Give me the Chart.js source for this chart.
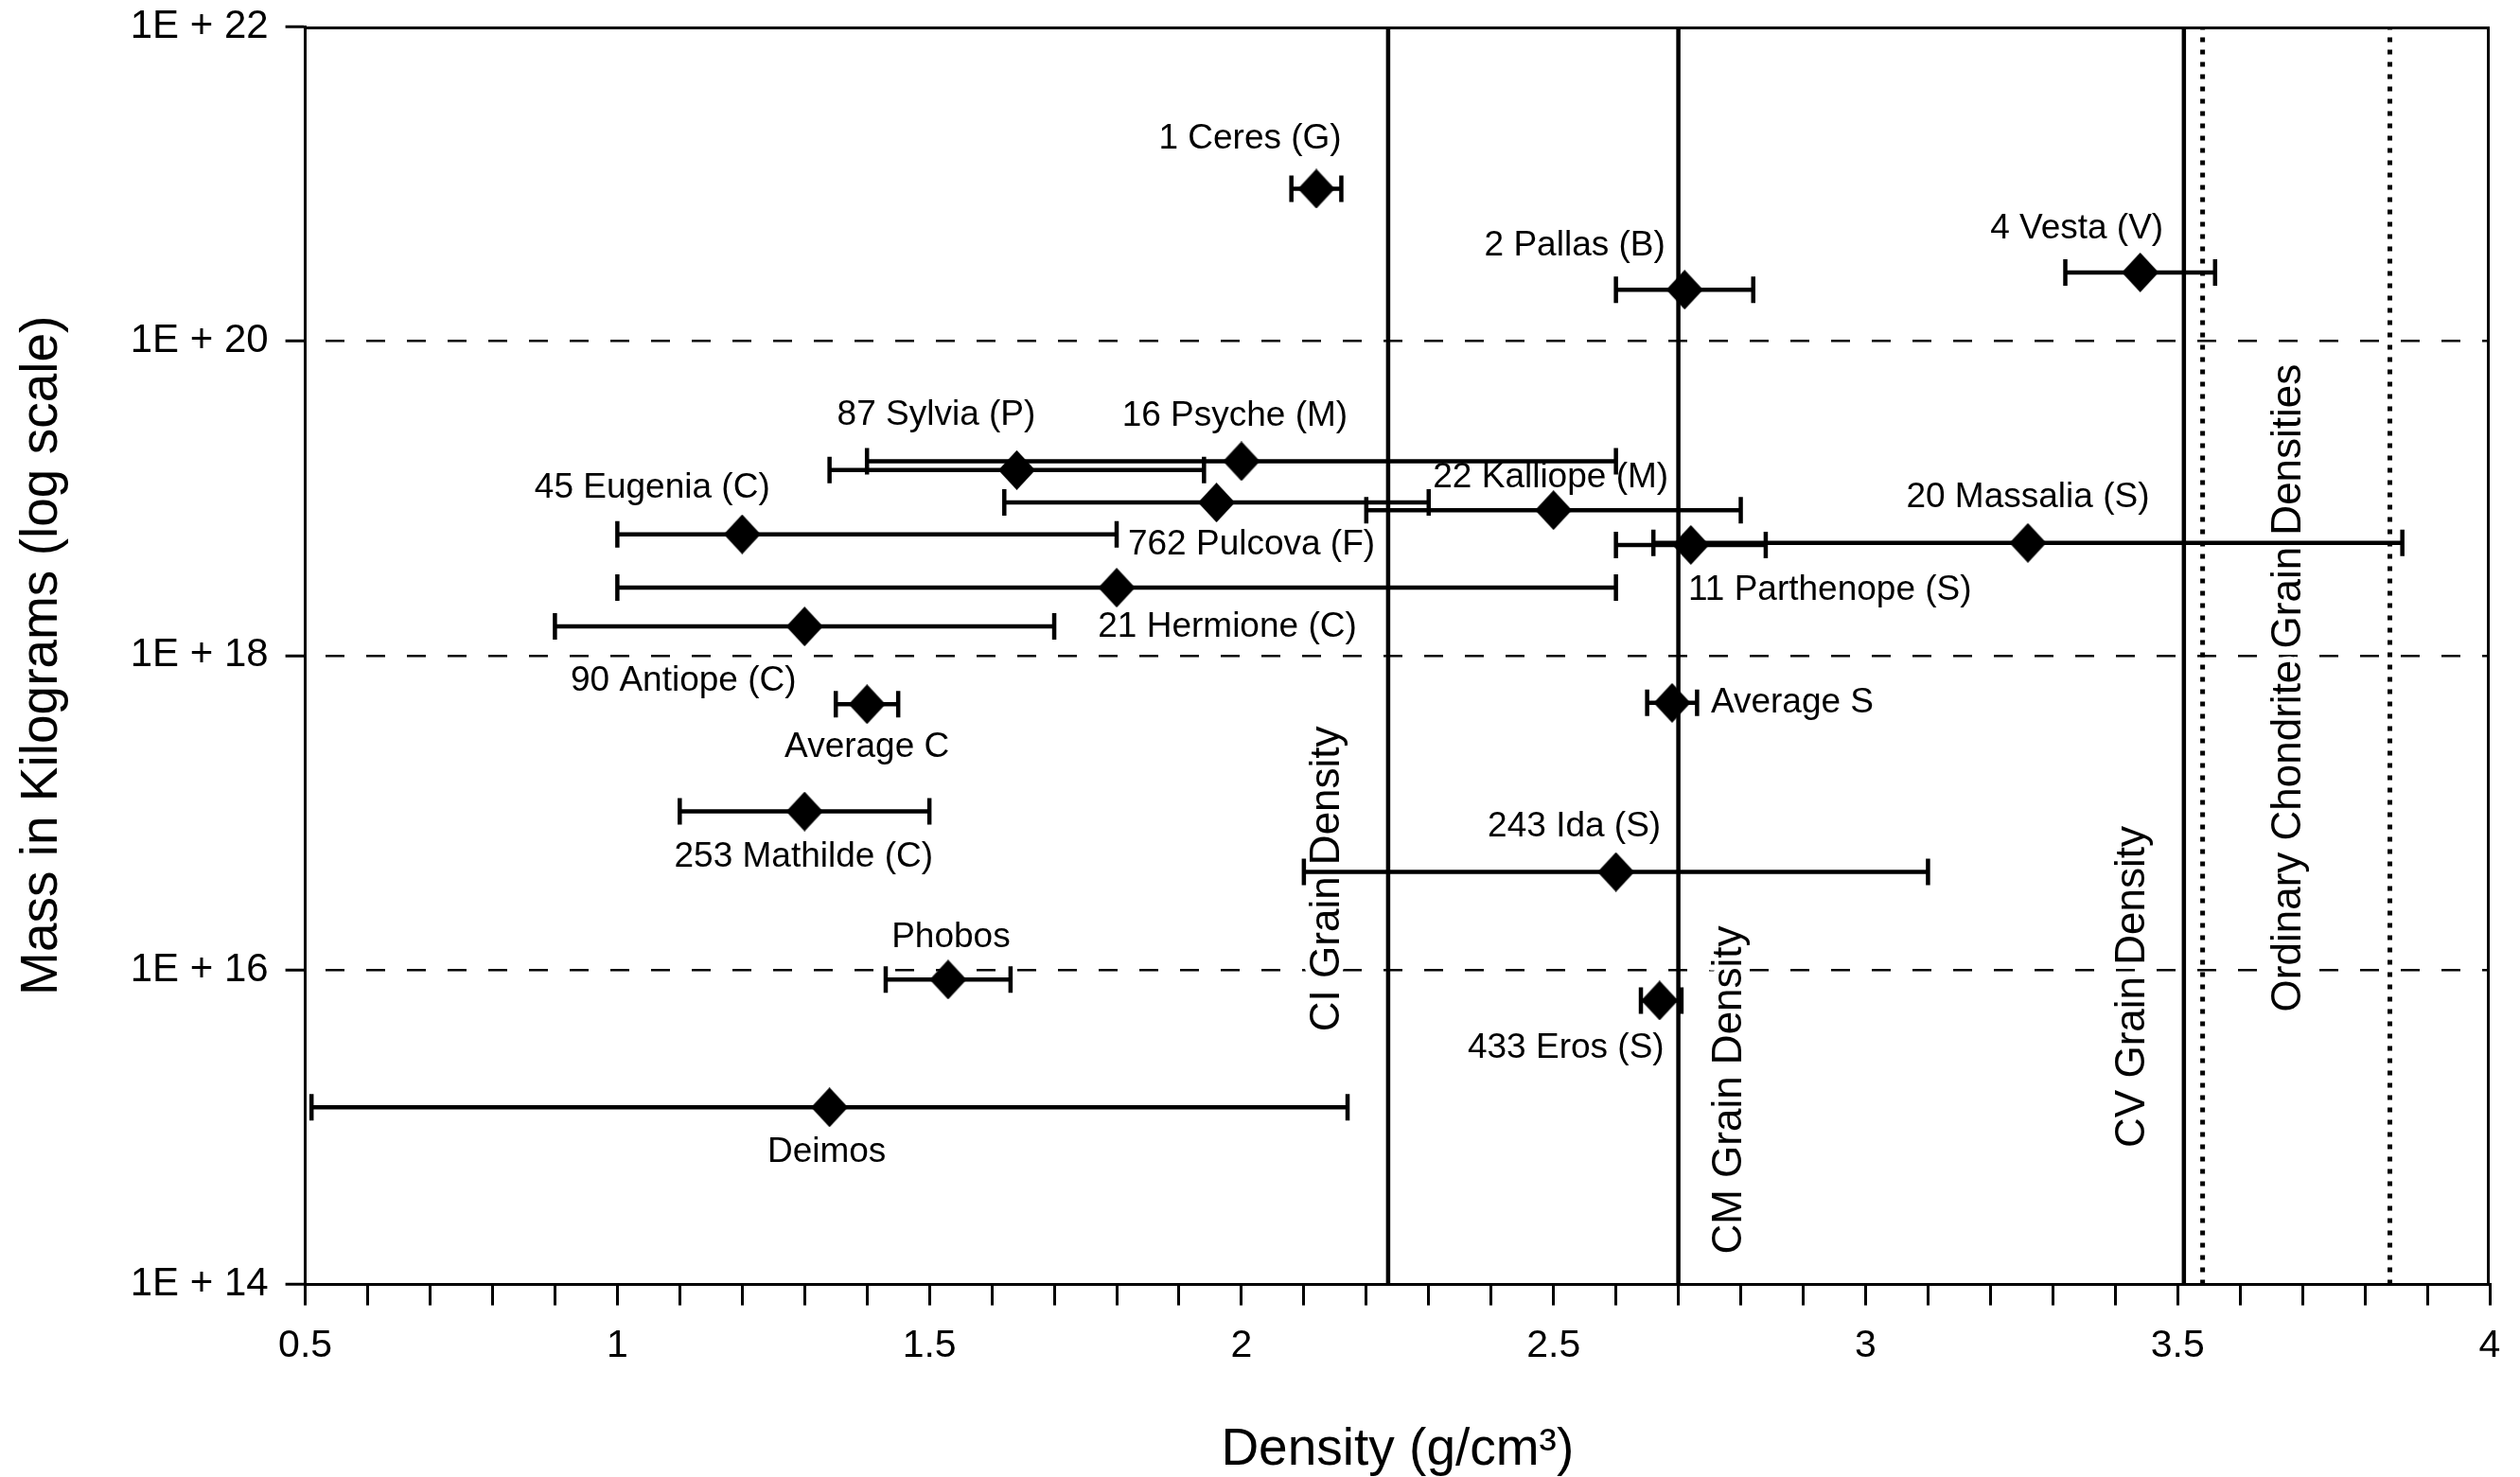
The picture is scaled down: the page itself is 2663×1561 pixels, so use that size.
<!DOCTYPE html>
<html>
<head>
<meta charset="utf-8">
<script src="https://cdn.jsdelivr.net/npm/chart.js"></script>
<style>
html,body{margin:0;padding:0;background:#fff;}
canvas{display:block;}
</style>
</head>
<body>
<canvas id="c" width="2663" height="1561"></canvas>
<script>
// ---------------- data ----------------
const names = [
  '1 Ceres (G)', '2 Pallas (B)', '4 Vesta (V)', '16 Psyche (M)', '87 Sylvia (P)',
  '22 Kalliope (M)', '762 Pulcova (F)', '45 Eugenia (C)', '20 Massalia (S)', '11 Parthenope (S)',
  '21 Hermione (C)', '90 Antiope (C)', 'Average C', 'Average S', '253 Mathilde (C)',
  '243 Ida (S)', 'Phobos', '433 Eros (S)', 'Deimos'
];
const density     = [2.12, 2.71, 3.44, 2.00, 1.64, 2.50, 1.96, 1.20, 3.26, 2.72, 1.80, 1.30, 1.40, 2.69, 1.30, 2.60, 1.53, 2.67, 1.34];
const densityLow  = [2.08, 2.60, 3.32, 1.40, 1.34, 2.20, 1.62, 1.00, 2.66, 2.60, 1.00, 0.90, 1.35, 2.65, 1.10, 2.10, 1.43, 2.64, 0.51];
const densityHigh = [2.16, 2.82, 3.56, 2.60, 1.94, 2.80, 2.30, 1.80, 3.86, 2.84, 2.60, 1.70, 1.45, 2.73, 1.50, 3.10, 1.63, 2.705, 2.17];
const massKg      = [9.3e20, 2.12e20, 2.73e20, 1.72e19, 1.51e19, 8.4e18, 9.4e18, 5.9e18, 5.2e18, 5.05e18,
                     2.7e18, 1.53e18, 4.9e17, 5.0e17, 1.02e17, 4.2e16, 8.7e15, 6.4e15, 1.34e15];

const grainLineNames   = ['CI Grain Density', 'CM Grain Density', 'CV Grain Density'];
const grainLineDensity = [2.235, 2.70, 3.51];
const ordinaryChondriteName = 'Ordinary Chondrite Grain Densities';
const ordinaryChondriteDensity = [3.54, 3.84];

const xTickLabels = ['0.5', '1', '1.5', '2', '2.5', '3', '3.5', '4'];
const yTickExponents = [14, 16, 18, 20, 22];

// ---------------- layout (pixel offsets of text, not data) ----------------
const labelOffsets = [
  [-70, -53], [-116, -46], [-67, -46], [-7, -48], [-85, -58],
  [-3, -34], [37, 45], [-95, -49], [0, -48], [147, 48],
  [117, 42], [-128, 58], [0, 46], [127, 0], [-1, 48],
  [-44, -48], [3, -44], [-99, 50], [-3, 48]
];
// rotated labels: anchor density, pixel dx, anchor mass (vertical centre)
const lineLabelLayout = [
  {at: 2.235, dx: -64, mass: 10 ** 16.58},
  {at: 2.70,  dx: 54,  mass: 10 ** 15.237},
  {at: 3.51,  dx: -54, mass: 10 ** 15.893},
  {at: 3.69,  dx: -8,  mass: 10 ** 17.794}
];

const FF = '"Liberation Sans", Arial, Helvetica, sans-serif';
const BLACK = '#000';

// diamond marker
const diamond = document.createElement('canvas');
diamond.width = 39; diamond.height = 42;
{
  const g = diamond.getContext('2d');
  g.fillStyle = BLACK;
  g.beginPath();
  g.moveTo(19.5, 0); g.lineTo(39, 21); g.lineTo(19.5, 42); g.lineTo(0, 21);
  g.closePath(); g.fill();
}

// ---------------- datasets ----------------
const datasets = [];
datasets.push({
  data: names.map((n, i) => ({x: density[i], y: massKg[i]})),
  pointStyle: diamond, pointRadius: 20, backgroundColor: BLACK, borderWidth: 0,
  showLine: false, order: 0
});
names.forEach((n, i) => {
  datasets.push({
    data: [{x: densityLow[i], y: massKg[i]}, {x: densityHigh[i], y: massKg[i]}],
    showLine: true, borderColor: BLACK, borderWidth: 4.5,
    pointStyle: 'line', pointRotation: 90, pointRadius: 14,
    pointBorderWidth: 4.5, pointBorderColor: BLACK, pointBackgroundColor: BLACK,
    order: 1
  });
});
grainLineDensity.forEach(v => {
  datasets.push({
    data: [{x: v, y: 10 ** yTickExponents[0]}, {x: v, y: 10 ** yTickExponents[yTickExponents.length - 1]}],
    showLine: true, borderColor: BLACK, borderWidth: 4.5, pointRadius: 0, order: 2
  });
});
ordinaryChondriteDensity.forEach(v => {
  datasets.push({
    data: [{x: v, y: 10 ** yTickExponents[0]}, {x: v, y: 10 ** yTickExponents[yTickExponents.length - 1]}],
    showLine: true, borderColor: BLACK, borderWidth: 5, borderDash: [5, 8], pointRadius: 0, order: 2
  });
});

// ---------------- plugins ----------------
const textPlugin = {
  id: 'texts',
  beforeDatasetsDraw(chart) {
    const {ctx, scales: {x, y}} = chart;
    const texts = grainLineNames.concat([ordinaryChondriteName]);
    ctx.save();
    ctx.font = `44px ${FF}`;
    ctx.textAlign = 'center';
    ctx.textBaseline = 'middle';
    texts.forEach((t, i) => {
      const L = lineLabelLayout[i];
      const px = x.getPixelForValue(L.at) + L.dx;
      const py = y.getPixelForValue(L.mass);
      ctx.save();
      ctx.translate(px, py);
      ctx.rotate(-Math.PI / 2);
      ctx.lineJoin = 'round';
      ctx.lineWidth = 12;
      ctx.strokeStyle = '#fff';
      ctx.strokeText(t, 0, 0);
      ctx.fillStyle = BLACK;
      ctx.fillText(t, 0, 0);
      ctx.restore();
    });
    ctx.restore();
  },
  afterDatasetsDraw(chart) {
    const {ctx, chartArea: a, scales: {x, y}} = chart;
    ctx.save();
    // top and right frame
    ctx.strokeStyle = BLACK;
    ctx.lineWidth = 3;
    ctx.beginPath();
    ctx.moveTo(a.left, a.top + 1.5); ctx.lineTo(a.right - 1.5, a.top + 1.5); ctx.lineTo(a.right - 1.5, a.bottom);
    ctx.stroke();
    // object labels
    ctx.font = `37px ${FF}`;
    ctx.textAlign = 'center';
    ctx.textBaseline = 'middle';
    ctx.fillStyle = BLACK;
    names.forEach((n, i) => {
      const px = x.getPixelForValue(density[i]) + labelOffsets[i][0];
      const py = y.getPixelForValue(massKg[i]) + labelOffsets[i][1];
      ctx.fillText(n, px, py);
    });
    ctx.restore();
  }
};

// ---------------- chart ----------------
new Chart(document.getElementById('c'), {
  type: 'scatter',
  data: {datasets},
  options: {
    responsive: false,
    animation: false,
    devicePixelRatio: 1,
    events: [],
    layout: {padding: {left: 0, right: 32, top: 28, bottom: 0}},
    plugins: {legend: {display: false}, tooltip: {enabled: false}, title: {display: false}},
    scales: {
      x: {
        type: 'linear',
        min: 0.5, max: 4,
        afterBuildTicks(s) {
          const t = [];
          for (let i = 5; i <= 40; i++) t.push({value: i / 10});
          s.ticks = t;
        },
        afterFit(s) { s.height = 1561 - 1357.6; s.paddingLeft = 0; s.paddingRight = 0; },
        ticks: {
          autoSkip: false, maxRotation: 0, minRotation: 0,
          padding: 18,
          color: BLACK,
          font: {family: FF, size: 41},
          callback(v) {
            const t = Math.round(v * 10);
            return t % 5 === 0 ? xTickLabels[(t - 5) / 5] : '';
          }
        },
        grid: {
          drawOnChartArea: false, drawTicks: true,
          tickLength: 22, tickWidth: 3, tickColor: BLACK, color: BLACK, lineWidth: 3
        },
        border: {display: true, color: BLACK, width: 3},
        title: {
          display: true, text: 'Density (g/cm³)', color: BLACK,
          font: {family: FF, size: 55}, padding: {top: 0, bottom: -5}
        }
      },
      y: {
        type: 'logarithmic',
        min: 10 ** yTickExponents[0], max: 10 ** yTickExponents[yTickExponents.length - 1],
        afterBuildTicks(s) {
          s.ticks = yTickExponents.map(e => ({value: 10 ** e}));
        },
        afterFit(s) { s.width = 322.6; s.paddingTop = 0; s.paddingBottom = 0; },
        ticks: {
          autoSkip: false,
          padding: 18,
          color: BLACK,
          font: {family: FF, size: 42},
          callback(v) { return '1E + ' + Math.round(Math.log10(v)); }
        },
        grid: {
          color: c => (c.index === 0 || c.index === yTickExponents.length - 1) ? 'rgba(0,0,0,0)' : BLACK,
          lineWidth: 2.5,
          drawTicks: true,
          tickLength: 21, tickWidth: 3, tickColor: BLACK, tickBorderDash: [], tickBorderDashOffset: 0
        },
        border: {display: true, color: BLACK, width: 3, dash: [20, 23], dashOffset: 23},
        title: {
          display: true, text: 'Mass in Kilograms (log scale)', color: BLACK,
          font: {family: FF, size: 55}, padding: {top: 12, bottom: 0}
        }
      }
    }
  },
  plugins: [textPlugin]
});
</script>
</body>
</html>
